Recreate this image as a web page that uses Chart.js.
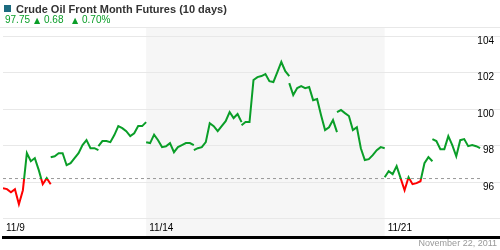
<!DOCTYPE html>
<html lang="en">
<head>
  <meta charset="UTF-8">
  <title>Crude Oil Front Month Futures (10 days)</title>
  <script src="https://cdn.jsdelivr.net/npm/chart.js"></script>
  <style>
    body {
      margin: 0;
      background: #fff;
      font-family: 'Liberation Sans', Arial, sans-serif;
    }
    .wrap {
      position: relative;
      width: 500px;
      height: 250px;
      overflow: hidden;
    }
    #oilChart {
      position: absolute;
      left: 0;
      top: 0;
    }
    /* header */
    .icon {
      position: absolute;
      left: 4px;
      top: 5px;
      width: 7px;
      height: 7px;
      background: #1c6b80;
    }
    .title {
      position: absolute;
      left: 16px;
      top: 3px;
      font-size: 11px;
      line-height: 13px;
      font-weight: bold;
      color: #333;
      white-space: nowrap;
    }
    .quote span {
      position: absolute;
      top: 14px;
      font-size: 10px;
      line-height: 12px;
      color: #0a9e28;
      white-space: nowrap;
    }
    .quote .arrow {
      font-family: 'DejaVu Sans', sans-serif;
      font-size: 8px;
      top: 15px;
    }
    .head-line {
      position: absolute;
      left: 0;
      top: 27px;
      width: 500px;
      border-top: 1px solid #e8e8e8;
    }
    .date {
      position: absolute;
      right: 3px;
      top: 238px;
      font-size: 9px;
      line-height: 11px;
      color: #999;
    }
  </style>
</head>
<body>
<div class="wrap">
  <canvas id="oilChart" width="500" height="250"></canvas>
  <div class="icon"></div>
  <div class="title">Crude Oil Front Month Futures (10 days)</div>
  <div class="quote">
    <span style="left:5px">97.75</span>
    <span class="arrow" style="left:34px">▲</span>
    <span style="left:44px">0.68</span>
    <span class="arrow" style="left:72px">▲</span>
    <span style="left:82px">0.70%</span>
  </div>
  <div class="head-line"></div>
  <div class="date">November 22, 2011</div>
</div>

<script>
  // one array per trading session, prices
  const nov09 = [95.67, 95.62, 95.45, 95.62, 94.79, 95.56, 97.59, 97.15, 97.32, 96.66, 95.89, 96.22, 95.89];
  const nov10 = [97.37, 97.42, 97.59, 97.59, 96.93, 97.04, 97.32, 97.59, 98.03, 98.30, 97.86, 97.86, 97.75];
  const nov11 = [97.97, 98.25, 98.25, 98.19, 98.58, 99.07, 98.96, 98.79, 98.52, 98.68, 99.07, 99.07, 99.29];
  const nov14 = [98.19, 98.14, 98.60, 98.30, 97.92, 97.97, 98.14, 97.64, 97.92, 98.03, 98.14, 98.14, 98.03];
  const nov15 = [97.75, 97.86, 97.92, 98.19, 99.23, 99.07, 98.79, 99.07, 99.34, 99.84, 99.51, 99.73, 99.29];
  const nov16 = [99.12, 99.29, 99.29, 101.59, 101.75, 101.81, 101.92, 101.53, 101.48, 102.03, 102.58, 102.08, 101.81];
  const nov17 = [101.42, 100.77, 101.15, 101.26, 101.15, 101.21, 100.49, 100.55, 99.67, 98.85, 99.01, 99.40, 98.74];
  const nov18 = [99.84, 99.95, 99.78, 99.62, 98.85, 99.01, 97.86, 97.21, 97.26, 97.48, 97.75, 97.92, 97.86];
  const nov21 = [96.27, 96.60, 96.44, 96.88, 96.22, 95.56, 96.27, 95.89, 95.95, 96.05, 97.04, 97.37, 97.15];
  const nov22 = [98.36, 98.25, 97.81, 97.81, 98.52, 98.03, 97.42, 98.30, 98.36, 97.97, 98.03, 97.97, 97.86];
  const sessions = [nov09, nov10, nov11, nov14, nov15, nov16, nov17, nov18, nov21, nov22];

  const prevClose = 96.2;            // dashed reference line
  const xTickDays = [0, 3, 8];
  const xTickLabels = ['11/9', '11/14', '11/21'];
  const yTicks = [94, 96, 98, 100, 102, 104];
  const shadeFrom = 3, shadeTo = 8;  // the week of 11/14

  const UP = '#0a9e28';
  const DOWN = '#ff0000';

  // build x/y points, a null between sessions breaks the line
  const points = [];
  sessions.forEach((vals, d) => {
    vals.forEach((v, k) => points.push({ x: d + k / (vals.length - 1), y: v }));
    points.push({ x: d + 1, y: null });
  });

  // green above previous close, red below
  function lineColor(context) {
    const chart = context.chart;
    const area = chart.chartArea;
    if (!area) return UP;
    const yBase = chart.scales.y.getPixelForValue(prevClose);
    const t = Math.min(1, Math.max(0, (yBase - area.top) / (area.bottom - area.top)));
    const g = chart.ctx.createLinearGradient(0, area.top, 0, area.bottom);
    g.addColorStop(0, UP);
    g.addColorStop(t, UP);
    g.addColorStop(t, DOWN);
    g.addColorStop(1, DOWN);
    return g;
  }

  const weekShade = {
    id: 'weekShade',
    beforeDraw(chart) {
      const { ctx, chartArea, scales } = chart;
      const x1 = scales.x.getPixelForValue(shadeFrom);
      const x2 = scales.x.getPixelForValue(shadeTo);
      ctx.save();
      ctx.fillStyle = '#f6f6f6';
      ctx.fillRect(x1, chartArea.top, x2 - x1, chartArea.bottom - chartArea.top);
      ctx.restore();
    }
  };

  const tickFont = { family: "'Liberation Sans', Arial, sans-serif", size: 10 };

  new Chart(document.getElementById('oilChart'), {
    type: 'line',
    data: {
      datasets: [
        {
          data: points,
          borderColor: lineColor,
          borderWidth: 2,
          pointRadius: 0,
          tension: 0,
          spanGaps: false
        },
        {
          data: [{ x: 0, y: prevClose }, { x: sessions.length, y: prevClose }],
          borderColor: '#999',
          borderWidth: 1,
          borderDash: [3, 3],
          pointRadius: 0
        }
      ]
    },
    options: {
      responsive: false,
      animation: false,
      layout: { padding: { top: 28, left: 0, right: 0, bottom: 0 } },
      plugins: {
        legend: { display: false },
        tooltip: { enabled: false }
      },
      scales: {
        x: {
          type: 'linear',
          min: 0,
          max: 500 / 48,
          afterBuildTicks: s => { s.ticks = xTickDays.map(v => ({ value: v })); },
          afterFit: s => { s.height = 13; },
          grid: { drawOnChartArea: false, drawTicks: false },
          border: { color: '#000', width: 3 },
          ticks: {
            mirror: true,
            align: 'start',
            labelOffset: 3,
            padding: 3,
            maxRotation: 0,
            autoSkip: false,
            color: '#000',
            font: tickFont,
            callback: v => {
              const i = xTickDays.indexOf(v);
              return i < 0 ? '' : xTickLabels[i];
            }
          }
        },
        y: {
          position: 'right',
          min: 93,
          max: 104.44,
          afterBuildTicks: s => { s.ticks = yTicks.map(v => ({ value: v })); },
          afterFit: s => { s.width = 0; },
          grid: { color: '#e8e8e8', drawTicks: false },
          border: { display: false },
          ticks: {
            mirror: true,
            padding: -6,
            labelOffset: 5,
            color: '#000',
            font: tickFont,
            callback: v => (v === 94 ? '' : v)
          }
        }
      }
    },
    plugins: [weekShade]
  });
</script>
</body>
</html>
